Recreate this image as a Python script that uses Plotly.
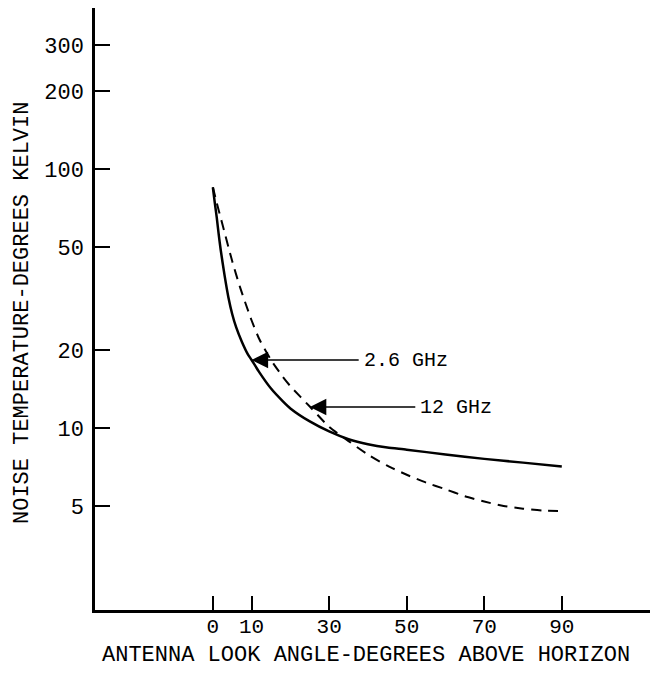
import math
import plotly.graph_objects as go

# ---- data ----
angle_26 = [0, 0.5, 1, 1.5, 2, 3, 4, 5, 6, 7.5, 9, 10, 12, 15, 18, 20, 25, 30, 35, 40, 45, 50, 60, 70, 80, 90]
temp_26 = [85, 74, 65, 56, 49, 39, 32, 27.5, 24.5, 21.5, 19.3, 18.3, 16.4, 14.2, 12.7, 11.9, 10.6, 9.7, 9.05, 8.65, 8.4, 8.25, 7.9, 7.6, 7.35, 7.1]

angle_12 = [0, 1, 2, 3, 4, 5, 7, 10, 12, 15, 18, 20, 25, 30, 35, 40, 45, 50, 55, 60, 65, 70, 75, 80, 85, 90]
temp_12 = [85, 74, 65, 57, 50, 44, 35, 26, 22, 18.3, 15.8, 14.5, 12.1, 10.1, 8.9, 7.9, 7.15, 6.6, 6.15, 5.8, 5.45, 5.2, 5.0, 4.88, 4.8, 4.78]

x_tick_vals = [0, 10, 30, 50, 70, 90]
y_tick_vals = [5, 10, 20, 50, 100, 200, 300]

labels = ["2.6 GHz", "12 GHz"]
label_head_x = [10, 25]        # where arrows touch curves
label_head_y = [18.3, 12.05]
label_tail_x = [38, 52.6]      # where the text begins

x_title = "ANTENNA LOOK ANGLE-DEGREES ABOVE HORIZON"
y_title = "NOISE TEMPERATURE-DEGREES KELVIN"

FONT = "Liberation Mono, DejaVu Sans Mono, monospace"

# page body has an 8px margin: figure coords = screen coords - 8
OFF = 8
W, H = 658 - OFF, 673 - OFF
pl, pt = 95 - OFF, 8 - OFF
pr = W - (656 - OFF)
pb = H - (610 - OFF)
pw, ph = W - pl - pr, H - pt - pb


def px_to_paper_x(sx):
    return (sx - OFF - pl) / pw


def px_to_paper_y(sy):
    return 1 - (sy - OFF - pt) / ph


fig = go.Figure()
fig.add_trace(go.Scatter(x=angle_26, y=temp_26, mode="lines",
                         line=dict(color="black", width=2.5, shape="spline", smoothing=0.6),
                         name="2.6 GHz", showlegend=False))
fig.add_trace(go.Scatter(x=angle_12, y=temp_12, mode="lines",
                         line=dict(color="black", width=2, dash="10px,7px", shape="spline", smoothing=0.6),
                         name="12 GHz", showlegend=False))

annotations = []
for lab, hx, hy, tx in zip(labels, label_head_x, label_head_y, label_tail_x):
    annotations.append(dict(x=hx, y=math.log10(hy), ax=tx, ay=math.log10(hy), axref="x", ayref="y",
                            xref="x", yref="y", text="", showarrow=True, arrowhead=2, arrowsize=2.2,
                            arrowwidth=1.5, arrowcolor="black"))
    annotations.append(dict(x=tx + 0.4, y=math.log10(hy), xref="x", yref="y", text=lab, showarrow=False,
                            xanchor="left", yanchor="middle", font=dict(family=FONT, size=20, color="black")))

annotations.append(dict(text=x_title, xref="paper", yref="paper",
                        x=px_to_paper_x(366), y=px_to_paper_y(655),
                        xanchor="center", yanchor="middle", showarrow=False,
                        font=dict(family=FONT, size=22, color="black")))
annotations.append(dict(text=y_title, xref="paper", yref="paper",
                        x=px_to_paper_x(22), y=px_to_paper_y(313),
                        xanchor="center", yanchor="middle", showarrow=False, textangle=-90,
                        font=dict(family=FONT, size=22, color="black")))

fig.update_layout(
    width=W, height=H,
    margin=dict(l=pl, r=pr, t=pt, b=pb),
    paper_bgcolor="white", plot_bgcolor="white",
    showlegend=False,
    annotations=annotations,
)

fig.update_xaxes(range=[-30.4, 114.3], tickvals=x_tick_vals, ticktext=[str(v) for v in x_tick_vals],
                 ticks="inside", ticklen=14, tickwidth=2, tickcolor="black",
                 showline=True, linewidth=2.5, linecolor="black", showgrid=False, zeroline=False,
                 automargin=False, ticklabelstandoff=-5,
                 tickfont=dict(family=FONT, size=21, color="black"))
fig.update_yaxes(type="log", range=[0.2973, 2.6216], tickvals=y_tick_vals, ticktext=[str(v) for v in y_tick_vals],
                 ticks="inside", ticklen=15, tickwidth=2, tickcolor="black",
                 showline=True, linewidth=2.5, linecolor="black", showgrid=False, zeroline=False,
                 automargin=False,
                 tickfont=dict(family=FONT, size=22, color="black"), ticklabelstandoff=4)

fig.write_html("out.html")
